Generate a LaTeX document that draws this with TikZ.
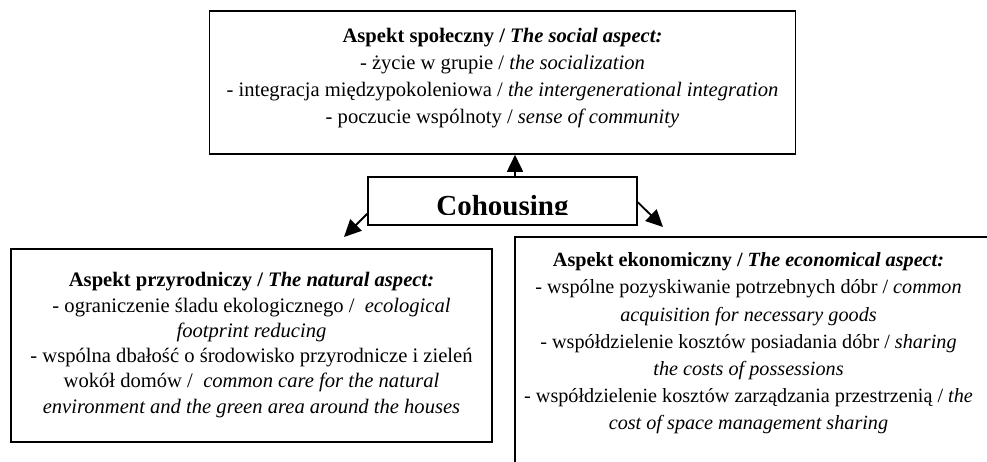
\documentclass[tikz,border=0pt]{standalone}
\usepackage{fontspec}
\setmainfont{Liberation Serif}
\usetikzlibrary{arrows.meta}

\begin{document}
\begin{tikzpicture} [x=1pt, y=-1pt,
		aspect/.style = {shape=rectangle, draw, line width=1.6pt, inner sep=0pt},
		body/.style = {align=center, inner sep=0pt, font=\fontsize{20.6}{27}\selectfont},
		arr/.style = {line width=1.8pt, -{Triangle[length=17pt,width=16pt]}}]
	\useasboundingbox (0,0) rectangle (987,461);
	% the four boxes
	\node [aspect, minimum width=586pt, minimum height=143pt] (social) at (502.5,82.5) {};
	\node [aspect, minimum width=269pt, minimum height=48pt] (coh) at (502.5,201) {};
	\node [aspect, minimum width=481pt, minimum height=193pt] (natural) at (251.5,345.5) {};
	\node [aspect, minimum width=477pt, minimum height=238pt] (econ) at (753.5,356) {};
	% texts
	\node [body] (socialtxt) at (502.5,78) {\textbf{Aspekt społeczny / \textit{The social aspect:}}\\
		- życie w grupie / \textit{the socialization}\\
		- integracja międzypokoleniowa / \textit{the intergenerational integration}\\
		- poczucie wspólnoty / \textit{sense of community}};
	\node [body, font=\fontsize{20.6}{25.3}\selectfont] (naturaltxt) at (251.5,345) {\textbf{Aspekt przyrodniczy / \textit{The natural aspect:}}\\
		- ograniczenie śladu ekologicznego / \ \textit{ecological}\\
		\textit{footprint reducing}\\
		- wspólna dbałość o środowisko przyrodnicze i zieleń\\
		wokół domów / \ \textit{common care for the natural}\\
		\textit{environment and the green area around the houses}};
	\node [body, font=\fontsize{20.2}{27.2}\selectfont] (econtxt) at (748.5,343.5) {\textbf{Aspekt ekonomiczny / \textit{The economical aspect:}}\\
		- wspólne pozyskiwanie potrzebnych dóbr / \textit{common}\\
		\textit{acquisition for necessary goods}\\
		- współdzielenie kosztów posiadania dóbr / \textit{sharing}\\
		\textit{the costs of possessions}\\
		- współdzielenie kosztów zarządzania przestrzenią / \textit{the}\\
		\textit{cost of space management sharing}};
	\begin{scope}
		\clip (368,177) rectangle (637,214.5);
		\node [anchor=base, inner sep=0pt, font=\fontsize{29}{34}\selectfont\bfseries] (cohtxt) at (502.5,215) {Cohousing};
	\end{scope}
	% arrows
	\coordinate (lefttip) at (344,237);
	\coordinate (righttip) at (663,227);
	\draw [arr] ([xshift=12.5pt]coh.north) -- ([xshift=12.5pt]social.south);
	\draw [arr] ([yshift=12pt]coh.south west) -- (lefttip);
	\draw [arr] ([yshift=-26pt]coh.north east) -- (righttip);
\end{tikzpicture}
\end{document}
